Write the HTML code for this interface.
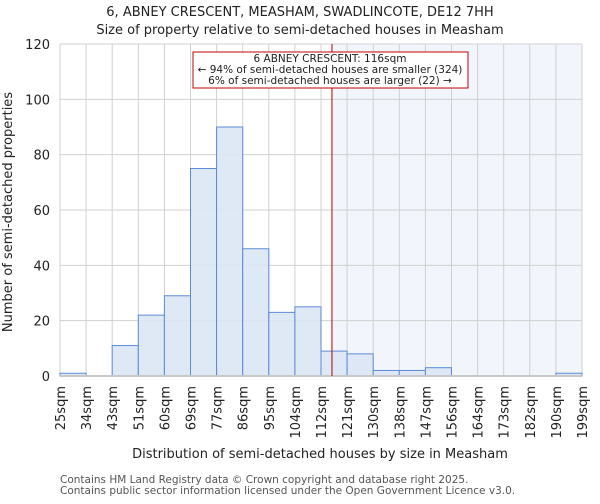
<!DOCTYPE html>
<html><head><meta charset="utf-8"><style>
body{margin:0;background:#fff;font-family:"DejaVu Sans","Liberation Sans",sans-serif;}
svg text{font-family:"DejaVu Sans","Liberation Sans",sans-serif;}
</style></head><body>
<svg id="chart" width="600" height="500" xmlns="http://www.w3.org/2000/svg">
<text x="300" y="16" text-anchor="middle" font-size="13" fill="#222">6, ABNEY CRESCENT, MEASHAM, SWADLINCOTE, DE12 7HH</text>
<text x="300" y="34" text-anchor="middle" font-size="13" fill="#222">Size of property relative to semi-detached houses in Measham</text>
<g id="grid"></g><g id="bars"></g><g id="axes"></g>
<text transform="translate(12,212) rotate(-90)" text-anchor="middle" font-size="13" fill="#222">Number of semi-detached properties</text>
<text x="320" y="458" text-anchor="middle" font-size="13" fill="#222">Distribution of semi-detached houses by size in Measham</text>
<text x="60" y="483" font-size="10.5" fill="#555">Contains HM Land Registry data © Crown copyright and database right 2025.</text>
<text x="60" y="494" font-size="10.5" fill="#555">Contains public sector information licensed under the Open Government Licence v3.0.</text>
</svg>
<script>
const binLabels=["25sqm","34sqm","43sqm","51sqm","60sqm","69sqm","77sqm","86sqm","95sqm","104sqm","112sqm","121sqm","130sqm","138sqm","147sqm","156sqm","164sqm","173sqm","182sqm","190sqm","199sqm"];
const counts=[1,0,11,22,29,75,90,46,23,25,9,8,2,2,3,0,0,0,0,1];
const yTicks=[0,20,40,60,80,100,120];
const markerPos=10.42;
const NS="http://www.w3.org/2000/svg";
const L=60,R=582,T=44,B=376,yMax=120;
const n=counts.length,bw=(R-L)/n;
const xs=i=>L+i*bw, ys=v=>B-(v/yMax)*(B-T);
function mk(t,a,p){const e=document.createElementNS(NS,t);for(const k in a)e.setAttribute(k,a[k]);p.appendChild(e);return e;}
const grid=document.getElementById('grid'),bars=document.getElementById('bars'),axes=document.getElementById('axes');
const mx=xs(markerPos);
const sh=mk('rect',{x:mx,y:T,width:R-mx,height:B-T,fill:'#f2f5fc'},grid);


for(let i=0;i<=n;i++){const g=mk('line',{x1:xs(i),x2:xs(i),y1:T,y2:B,stroke:'#d0d0d0','stroke-width':1},grid);

}
yTicks.forEach(v=>{const g=mk('line',{x1:L,x2:R,y1:ys(v),y2:ys(v),stroke:'#d0d0d0','stroke-width':1},grid);


const t=mk('text',{x:L-10,y:ys(v)+5,'text-anchor':'end','font-size':13,fill:'#222'},axes);t.textContent=v;

});
counts.forEach((c,i)=>{if(c<=0)return;const r=mk('rect',{x:xs(i),y:ys(c),width:bw,height:B-ys(c),fill:'#dbe5f4','fill-opacity':0.9,stroke:'#5b8bd6','stroke-width':1},bars);

});
const base=mk('line',{x1:L,x2:R,y1:B,y2:B,stroke:'#c8c8c8','stroke-width':2},axes);


binLabels.forEach((lb,i)=>{const x=xs(i);const t=mk('text',{transform:`translate(${x+5},386) rotate(-90)`,'text-anchor':'end','font-size':13,fill:'#222'},axes);t.textContent=lb;

});
const ml=mk('line',{x1:mx,x2:mx,y1:T,y2:B,stroke:'#b00000','stroke-width':1},axes);


const box=mk('rect',{x:193,y:52,width:275,height:36,fill:'#fff',stroke:'#c00000','stroke-width':1},axes);


[["6 ABNEY CRESCENT: 116sqm",62],["← 94% of semi-detached houses are smaller (324)",73],["6% of semi-detached houses are larger (22) →",84]].forEach(([s,y])=>{const t=mk('text',{x:330,y:y,'text-anchor':'middle','font-size':10.5,fill:'#222'},axes);t.textContent=s;

});
</script>
</body></html>
